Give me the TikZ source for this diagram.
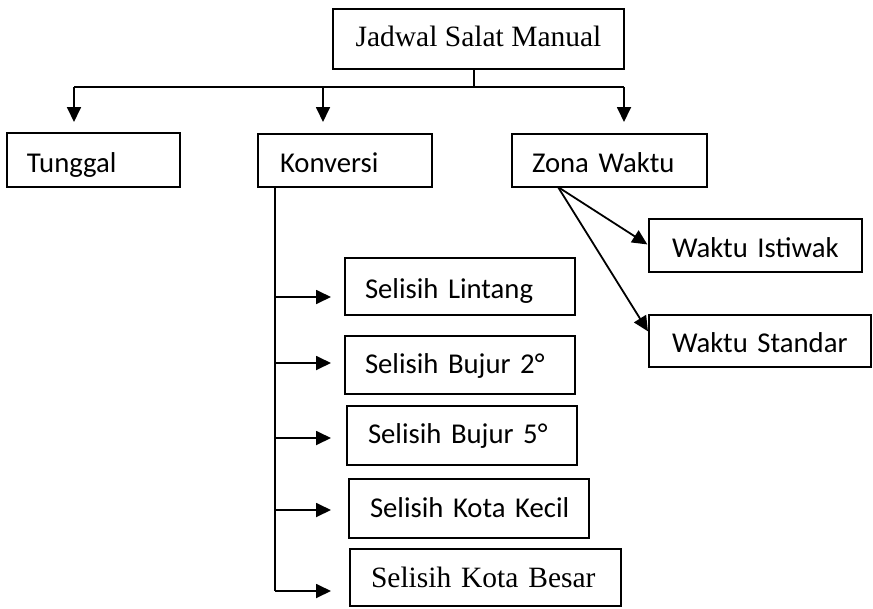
\documentclass[tikz,border=0pt]{standalone}
\usepackage{fontspec}
\setmainfont{Liberation Serif}
\newfontfamily\calfont[WordSpace=0.75]{Carlito}
\usetikzlibrary{arrows.meta,calc}
\begin{document}
\begin{tikzpicture}[x=1pt,y=-1pt,
  bx/.style={draw, line width=1.8pt, anchor=north west, align=left, inner ysep=0pt, outer sep=0pt,
             text depth=0pt, font=\calfont\fontsize{28.7}{33}\selectfont},
  sbx/.style={bx, font=\fontsize{29.5}{33}\selectfont},
  ln/.style={line width=1.8pt},
  arr/.style={line width=1.8pt, -{Triangle[length=15pt,width=14pt]}}]
\useasboundingbox (0,0) rectangle (873,608);
% top
\node[sbx, align=center, minimum width=291pt, minimum height=60pt, text height=14pt] (top) at (333,9) {\mbox{Jadwal Salat Manual}};
% level 2
\node[bx, minimum width=173pt, minimum height=54pt, inner xsep=20pt, text width=133pt, text height=24pt] (tunggal) at (7,133) {\mbox{Tunggal}};
\node[bx, minimum width=174pt, minimum height=53pt, inner xsep=22pt, text width=130pt, text height=23pt] (konversi) at (258,134) {\mbox{Konversi}};
\node[bx, minimum width=195pt, minimum height=53pt, inner xsep=20pt, text width=155pt, text height=23pt] (zona) at (512,134) {\mbox{Zona Waktu}};
% zona children
\node[bx, minimum width=213pt, minimum height=53pt, inner xsep=23pt, text width=167pt, text height=23pt] (istiwak) at (649,219) {\mbox{Waktu Istiwak}};
\node[bx, minimum width=222pt, minimum height=52pt, inner xsep=23pt, text width=176pt, text height=22pt] (standar) at (649,315) {\mbox{Waktu Standar}};
% konversi children
\node[bx, minimum width=230pt, minimum height=57pt, inner xsep=20pt, text width=190pt, text height=23pt] (lintang) at (345,258) {\mbox{Selisih Lintang}};
\node[bx, minimum width=230pt, minimum height=58pt, inner xsep=20pt, text width=190pt, text height=16pt] (bujur2) at (345,336) {\mbox{Selisih Bujur 2°}};
\node[bx, minimum width=230pt, minimum height=59pt, inner xsep=21pt, text width=188pt, text height=15pt] (bujur5) at (347,406) {\mbox{Selisih Bujur 5°}};
\node[bx, minimum width=240pt, minimum height=59pt, inner xsep=21pt, text width=198pt, text height=17pt] (kecil) at (349,479) {\mbox{Selisih Kota Kecil}};
\node[sbx, minimum width=271pt, minimum height=57pt, inner xsep=21pt, text width=229pt, text height=19pt] (besar) at (350,549) {\mbox{Selisih Kota Besar}};
% top connectors
\coordinate (stem) at (474,87);
\coordinate (barL) at (74,87);
\coordinate (barM) at (323,87);
\coordinate (barR) at (624,87);
\draw[ln] (top.south -| stem) -- (stem);
\draw[ln] (barL) -- (barR);
\draw[arr, shorten >=11pt] (barL) -- (barL |- tunggal.north);
\draw[arr, shorten >=12pt] (barM) -- (barM |- konversi.north);
\draw[arr, shorten >=12pt] (barR) -- (barR |- zona.north);
% konversi trunk
\coordinate (a1) at (275,297);
\coordinate (a2) at (275,363);
\coordinate (a3) at (275,438);
\coordinate (a4) at (275,510);
\coordinate (a5) at (275,591);
\draw[ln] (konversi.south -| a1) -- (a5);
\draw[arr, shorten >=14pt] (a1) -- (a1 -| lintang.west);
\draw[arr, shorten >=14pt] (a2) -- (a2 -| bujur2.west);
\draw[arr, shorten >=16pt] (a3) -- (a3 -| bujur5.west);
\draw[arr, shorten >=18pt] (a4) -- (a4 -| kecil.west);
\draw[arr, shorten >=19pt] (a5) -- (a5 -| besar.west);
% zona connectors
\coordinate (z0) at ($(zona.south west)+(46,0)$);
\draw[arr, shorten >=2pt] (z0) -- (istiwak.west);
\draw[arr, shorten >=2pt] (z0) -- ($(standar.west)+(0,-8)$);
\end{tikzpicture}
\end{document}
